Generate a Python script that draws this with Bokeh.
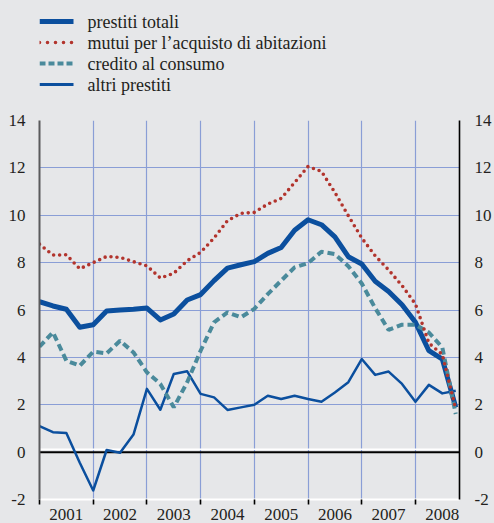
from bokeh.plotting import figure
from bokeh.layouts import column
from bokeh.models import Range1d, LinearAxis, FixedTicker, Span
from bokeh.core.properties import value
from bokeh.embed import file_html
from bokeh.resources import INLINE

# ---------------- data ----------------
years = [2001, 2002, 2003, 2004, 2005, 2006, 2007, 2008]
year_labels = ["2001", "2002", "2003", "2004", "2005", "2006", "2007", "2008"]
quarters = [0, 1, 2, 3]

prestiti_totali = [6.35, 6.17, 6.03, 5.27, 5.38, 5.96, 6.00, 6.03,
                   6.08, 5.58, 5.83, 6.42, 6.65, 7.24, 7.77, 7.91,
                   8.04, 8.39, 8.64, 9.37, 9.81, 9.60, 9.09, 8.25,
                   7.94, 7.21, 6.78, 6.22, 5.48, 4.28, 3.93, 1.89]
mutui = [8.78, 8.32, 8.33, 7.74, 8.00, 8.26, 8.22, 8.04,
         7.86, 7.35, 7.55, 8.08, 8.43, 9.04, 9.77, 10.08,
         10.12, 10.47, 10.71, 11.38, 12.06, 11.85, 10.96, 9.98,
         9.04, 8.29, 7.69, 7.03, 6.25, 4.60, 4.12, 1.82]
credito = [4.45, 5.06, 3.86, 3.65, 4.24, 4.17, 4.70, 4.21,
           3.37, 2.88, 1.89, 2.95, 4.28, 5.48, 5.90, 5.69,
           6.05, 6.67, 7.24, 7.80, 7.98, 8.46, 8.36, 7.85,
           7.12, 6.08, 5.16, 5.38, 5.38, 5.05, 4.42, 1.61]
altri = [1.10, 0.84, 0.81, -0.45, -1.62, 0.09, -0.03, 0.74,
         2.67, 1.79, 3.30, 3.41, 2.46, 2.31, 1.78, 1.89,
         2.00, 2.38, 2.24, 2.38, 2.24, 2.13, 2.52, 2.95,
         3.93, 3.26, 3.40, 2.88, 2.13, 2.84, 2.48, 2.59]

y_ticks = [-2, 0, 2, 4, 6, 8, 10, 12, 14]
y_tick_labels = ["-2", "0", "2", "4", "6", "8", "10", "12", "14"]
series_names = ["prestiti totali", "mutui per l\u2019acquisto di abitazioni",
                "credito al consumo", "altri prestiti"]

# ---------------- style ----------------
BG = "#e6e7e9"
GRID = "#8a9ed6"
BLUE = "#0b4f9e"
RED = "#b2342d"
TEAL = "#4a8a9b"
TXT = "#231f20"
FONT = "'Liberation Serif', 'Times New Roman', serif"

styles = [dict(line_color=BLUE, line_width=5),
          dict(line_color=RED, line_width=3.6, line_dash="0 8", line_cap="round"),
          dict(line_color=TEAL, line_width=4, line_dash="6 3"),
          dict(line_color=BLUE, line_width=3)]

dates = [y + q / 4 for y in years for q in quarters][:len(prestiti_totali)]

# frame geometry shared by both figures (column aligns their frames)
FRAME_L, FRAME_R = 39, 459
TOP_H = 108

# ---------------- legend strip (pixel coordinates) ----------------
top = figure(width=494, height=TOP_H,
             x_range=Range1d(FRAME_L, FRAME_R), y_range=Range1d(TOP_H, 0),
             output_backend="svg", toolbar_location=None,
             x_axis_location=None, y_axis_location=None,
             min_border_left=FRAME_L, min_border_right=494 - FRAME_R,
             min_border_top=0, min_border_bottom=0,
             background_fill_color=BG, border_fill_color=BG,
             outline_line_color=None)
top.grid.visible = False
LEG_X0, LEG_X1, LEG_TX, ROW0, ROW_H = 39, 73, 87, 21, 21
for i, (name, st) in enumerate(zip(series_names, styles)):
    yy = ROW0 + ROW_H * i
    top.line([LEG_X0, LEG_X1], [yy, yy], **st)
    top.text(x=[LEG_TX], y=[yy], text=[name], text_baseline="middle",
             text_align="left", text_font=value(FONT),
             text_font_size="18px", text_color=TXT)

# ---------------- main chart ----------------
p = figure(width=494, height=523 - TOP_H,
           x_range=Range1d(2001, 2008.82), y_range=Range1d(-2, 14),
           output_backend="svg", toolbar_location=None,
           min_border_left=FRAME_L, min_border_right=494 - FRAME_R,
           min_border_top=12, min_border_bottom=24,
           background_fill_color=BG, border_fill_color=BG,
           outline_line_color=None)

p.xgrid.ticker = FixedTicker(ticks=years[1:])
p.ygrid.ticker = FixedTicker(ticks=[t for t in y_ticks if t > 0])
for g in (p.xgrid[0], p.ygrid[0]):
    g.grid_line_color = GRID
    g.grid_line_width = 1.2

def style_y(ax, standoff, line_color, line_width):
    ax.ticker = FixedTicker(ticks=y_ticks)
    ax.major_label_overrides = {t: s for t, s in zip(y_ticks, y_tick_labels)}
    ax.major_tick_out = 0
    ax.major_tick_in = 0
    ax.minor_tick_out = 0
    ax.minor_tick_in = 0
    ax.axis_line_color = line_color
    ax.axis_line_width = line_width
    ax.major_label_standoff = standoff
    ax.major_label_text_font = FONT
    ax.major_label_text_font_size = "17px"
    ax.major_label_text_color = TXT

style_y(p.yaxis[0], 14, "#5a5b5d", 2)
ra = LinearAxis()
style_y(ra, 15, "black", 1.6)
p.add_layout(ra, "right")

# bottom axis: labels centred in each year, ticks at year boundaries
xa = p.xaxis[0]
mids = [y + 0.5 for y in years]
xa.ticker = FixedTicker(ticks=mids, minor_ticks=years)
xa.major_label_overrides = {m: lab for m, lab in zip(mids, year_labels)}
xa.major_tick_out = 0
xa.major_tick_in = 0
xa.major_label_standoff = 4
xa.major_label_text_font = FONT
xa.major_label_text_font_size = "17px"
xa.major_label_text_color = TXT
xa.minor_tick_out = 5
xa.minor_tick_in = 0
xa.minor_tick_line_color = "black"
xa.minor_tick_line_width = 1.6
xa.axis_line_color = "white"
xa.axis_line_width = 2

# zero line
p.add_layout(Span(location=0.12, dimension="width", line_color="white",
                  line_width=1.5, level="underlay"))
p.add_layout(Span(location=0, dimension="width", line_color="black",
                  line_width=2, level="underlay"))

# series
p.line(dates, altri, line_color=BLUE, line_width=2.5, line_join="round")
p.line(dates, prestiti_totali, line_color=BLUE, line_width=5, line_join="round")
p.line(dates, credito, line_color=TEAL, line_width=4, line_dash="7 4")
p.line(dates, mutui, line_color=RED, line_width=3.6, line_dash="0 6", line_cap="round")

layout = column(top, p, spacing=0)
html = file_html(layout, INLINE, title="prestiti")
html = html.replace("</head>", "<style>html,body{background:#e6e7e9;}</style></head>", 1)
open("out.html", "w").write(html)
